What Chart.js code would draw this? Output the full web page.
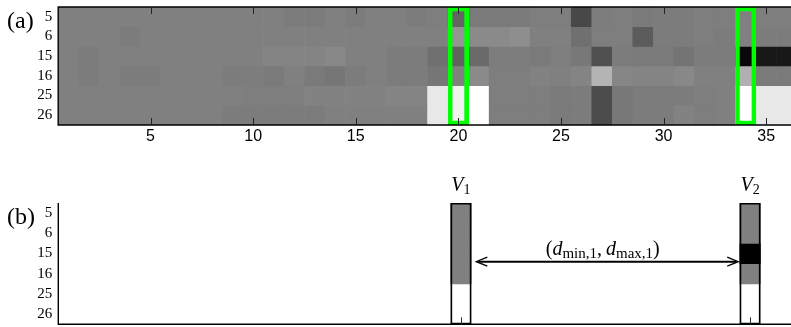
<!DOCTYPE html>
<html>
<head>
<meta charset="utf-8">
<script src="https://cdn.jsdelivr.net/npm/chart.js@4.4.0/dist/chart.umd.min.js"></script>
<style>
  html, body { margin: 0; padding: 0; background: #fff; overflow: hidden; width: 791px; height: 327px; }
  canvas { position: absolute; left: 0; }
  #heat { top: 0; }
  #sel { top: 160px; }
</style>
</head>
<body>
<canvas id="heat" width="820" height="160"></canvas>
<canvas id="sel" width="820" height="167"></canvas>
<script>
// --- dados ---
const columns = [1, 2, 3, 4, 5, 6, 7, 8, 9, 10, 11, 12, 13, 14, 15, 16, 17, 18,
                 19, 20, 21, 22, 23, 24, 25, 26, 27, 28, 29, 30, 31, 32, 33, 34, 35, 36];
const rowLabels = ['5', '6', '15', '16', '25', '26'];
const xTicks = [5, 10, 15, 20, 25, 30, 35];

// niveis de cinza (0 = preto, 255 = branco) por linha, colunas 1..36
const gray5  = [128,128,128,128,128,128,128,128,128,128,128,124,124,128,124,128,128,124,
                126,100,122,122,122,126,126, 72,125,126,122,124,124,126,126,128,126,126];
const gray6  = [128,128,128,124,128,128,128,128,128,128,128,128,128,128,128,128,128,128,
                128,148,138,138,142,128,128,112,126,126, 92,124,124,126,124,128,124,124];
const gray15 = [128,124,128,128,128,128,128,128,128,128,132,132,132,136,128,128,124,124,
                112, 98,106,125,125,122,126,120, 80,124,122,122,116,124,124,  8, 24, 24];
const gray16 = [128,124,128,124,124,128,128,128,124,125,122,128,122,118,124,128,124,124,
                118,128,138,126,126,130,128,132,180,134,132,132,136,128,128,176,122,122];
const gray25 = [128,128,128,128,128,128,128,128,128,126,126,126,130,130,130,130,132,132,
                232,242,255,126,126,126,122,124, 76,120,124,124,124,126,128,255,232,232];
const gray26 = [128,128,128,128,128,128,128,128,124,124,124,124,124,128,128,128,128,128,
                232,242,255,126,126,126,122,124, 76,120,124,124,130,126,128,255,232,232];

const selectedCols = [20, 34];
const selNames = ['V', 'V'];
const selSubs = ['1', '2'];
const v1Gray = [128, 128, 128, 128, 255, 255];
const v2Gray = [128, 128, 0, 128, 255, 255];
const arrowRow = 2.4;

const toGray = v => `rgb(${v},${v},${v})`;
const grayRows = [gray5, gray6, gray15, gray16, gray25, gray26];
const serif = '"Liberation Serif", "Times New Roman", serif';

function rowTicks(s) { s.ticks = rowLabels.map((_, i) => ({ value: i })); }

// --- GRAFICO (a) ---
const heatDecor = {
    id: 'heatDecor',
    afterDatasetsDraw(chart) {
        const { ctx, chartArea: a, scales: { x } } = chart;
        ctx.save();
        ctx.strokeStyle = '#000';
        ctx.lineWidth = 1.4;
        ctx.beginPath();
        ctx.moveTo(a.right + 2, a.top); ctx.lineTo(a.left, a.top);
        ctx.lineTo(a.left, a.bottom); ctx.lineTo(a.right + 2, a.bottom);
        ctx.stroke();
        ctx.lineWidth = 1;
        ctx.strokeStyle = '#222';
        ctx.beginPath();
        xTicks.forEach(v => {
            const px = Math.round(x.getPixelForValue(v)) + 0.5;
            ctx.moveTo(px, a.top); ctx.lineTo(px, a.top + 7);
            ctx.moveTo(px, a.bottom); ctx.lineTo(px, a.bottom - 7);
        });
        ctx.stroke();
        ctx.fillStyle = '#000';
        ctx.font = `24px ${serif}`;
        ctx.textBaseline = 'alphabetic';
        ctx.fillText('(a)', 7, 28);
        ctx.restore();
    }
};

new Chart(document.getElementById('heat').getContext('2d'), {
    type: 'bar',
    data: {
        datasets: [{
            data: selectedCols.map(c => ({ x: c, y: [-0.5, rowLabels.length - 0.5] })),
            backgroundColor: 'rgba(0,0,0,0)',
            borderColor: '#00ff00',
            borderWidth: 4,
            borderSkipped: false,
            order: 1
        }].concat(grayRows.map((row, r) => ({
            data: columns.map(c => ({ x: c, y: [r - 0.5, r + 0.5] })),
            backgroundColor: row.map(toGray),
            borderWidth: 0,
            order: 2
        })))
    },
    options: {
        responsive: false,
        animation: false,
        layout: { padding: { top: 7, right: 23, left: 0, bottom: 0 } },
        plugins: { legend: { display: false }, tooltip: { enabled: false } },
        datasets: { bar: { grouped: false, barPercentage: 1, categoryPercentage: 1 } },
        scales: {
            x: {
                type: 'linear', min: 0.5, max: 36.5, offset: false,
                grid: { display: false, drawTicks: false }, border: { display: false },
                afterBuildTicks: s => { s.ticks = xTicks.map(v => ({ value: v })); },
                afterFit: s => { s.height = 35; s.paddingLeft = 0; s.paddingRight = 0; },
                ticks: { font: { family: '"Liberation Sans", Arial, sans-serif', size: 16 }, color: '#000', padding: 2, maxRotation: 0, autoSkip: false }
            },
            y: {
                type: 'linear', reverse: true, min: -0.5, max: 5.5, offset: false,
                grid: { display: false, drawTicks: false }, border: { display: false },
                afterBuildTicks: rowTicks,
                afterFit: s => { s.width = 58.2; s.paddingTop = 0; s.paddingBottom = 0; },
                ticks: { callback: v => rowLabels[Math.round(v)], font: { family: serif, size: 15 }, color: '#000', padding: 6, autoSkip: false }
            }
        }
    },
    plugins: [heatDecor]
});

// --- GRAFICO (b) ---
function drawSubText(ctx, parts, x, y) {
    // parts: [texto, fonte, deslocamento vertical]
    const total = parts.reduce((acc, p) => { ctx.font = p[1]; return acc + ctx.measureText(p[0]).width; }, 0);
    let cx = x - total / 2;
    parts.forEach(p => {
        ctx.font = p[1];
        ctx.fillText(p[0], cx, y + p[2]);
        cx += ctx.measureText(p[0]).width;
    });
}

const selDecor = {
    id: 'selDecor',
    afterDatasetsDraw(chart) {
        const { ctx, chartArea: a, scales: { x, y } } = chart;
        ctx.save();
        ctx.strokeStyle = '#000';
        ctx.lineWidth = 1.4;
        ctx.beginPath();
        ctx.moveTo(a.left, a.top); ctx.lineTo(a.left, a.bottom); ctx.lineTo(a.right + 2, a.bottom);
        ctx.stroke();
        ctx.lineWidth = 1;
        ctx.strokeStyle = '#333';
        ctx.beginPath();
        selectedCols.forEach(c => {
            const px = Math.round(x.getPixelForValue(c)) + 0.5;
            ctx.moveTo(px, a.bottom); ctx.lineTo(px, a.bottom - 7);
        });
        ctx.stroke();

        ctx.fillStyle = '#000';
        ctx.textBaseline = 'alphabetic';
        const topPx = y.getPixelForValue(-0.5);
        selectedCols.forEach((c, i) => {
            drawSubText(ctx, [[selNames[i], `italic 20px ${serif}`, 0], [selSubs[i], `14px ${serif}`, 3]],
                x.getPixelForValue(c), topPx - 12);
        });

        // seta dupla
        const x1 = x.getPixelForValue(selectedCols[0] + 0.5) + 5;
        const x2 = x.getPixelForValue(selectedCols[1] - 0.5) - 1.5;
        const ya = y.getPixelForValue(arrowRow);
        ctx.strokeStyle = '#000';
        ctx.lineWidth = 2;
        ctx.beginPath();
        ctx.moveTo(x1 + 2, ya); ctx.lineTo(x2 - 2, ya);
        ctx.stroke();
        ctx.lineWidth = 1.3;
        ctx.beginPath();
        ctx.moveTo(x1 + 11, ya - 4.5); ctx.lineTo(x1, ya); ctx.lineTo(x1 + 11, ya + 4.5);
        ctx.moveTo(x2 - 11, ya - 4.5); ctx.lineTo(x2, ya); ctx.lineTo(x2 - 11, ya + 4.5);
        ctx.stroke();

        const it = `italic 20px ${serif}`, rm = `20px ${serif}`, sb = `15px ${serif}`;
        drawSubText(ctx, [['(', rm, 0], ['d', it, 0], ['min,1', sb, 3], [',\u2009', rm, 0],
                          ['d', it, 0], ['max,1', sb, 3], [')', rm, 0]],
            (x1 + x2) / 2 - 4.5, ya - 7);

        ctx.font = `24px ${serif}`;
        ctx.fillText('(b)', 7, 64);
        ctx.restore();
    }
};

const selRows = [v1Gray, v2Gray];
new Chart(document.getElementById('sel').getContext('2d'), {
    type: 'bar',
    data: {
        datasets: [{
            data: selectedCols.map(c => ({ x: c, y: [-0.5, rowLabels.length - 0.5] })),
            backgroundColor: 'rgba(0,0,0,0)',
            borderColor: '#000',
            borderWidth: 1.2,
            borderSkipped: false,
            order: 1
        }].concat(rowLabels.map((_, r) => ({
            data: selectedCols.map(c => ({ x: c, y: [r - 0.5, r + 0.5] })),
            backgroundColor: selRows.map(g => toGray(g[r])),
            borderWidth: 0,
            order: 2
        })))
    },
    options: {
        responsive: false,
        animation: false,
        layout: { padding: { top: 43, right: 18.3, left: 0, bottom: 2.7 } },
        plugins: { legend: { display: false }, tooltip: { enabled: false } },
        datasets: { bar: { grouped: false, barPercentage: 1, categoryPercentage: 1 } },
        scales: {
            x: {
                type: 'linear', min: 0.5, max: 36.5, offset: false,
                grid: { display: false, drawTicks: false }, border: { display: false },
                afterBuildTicks: s => { s.ticks = columns.map(v => ({ value: v })); },
                afterFit: s => { s.height = 0; s.paddingLeft = 0; s.paddingRight = 0; },
                ticks: { display: false }
            },
            y: {
                type: 'linear', reverse: true, min: -0.5, max: 5.5, offset: false,
                grid: { display: false, drawTicks: false }, border: { display: false },
                afterBuildTicks: rowTicks,
                afterFit: s => { s.width = 58.3; s.paddingTop = 0; s.paddingBottom = 0; },
                ticks: { callback: v => rowLabels[Math.round(v)], font: { family: serif, size: 15 }, color: '#000', padding: 6, autoSkip: false }
            }
        }
    },
    plugins: [selDecor]
});
</script>
</body>
</html>
